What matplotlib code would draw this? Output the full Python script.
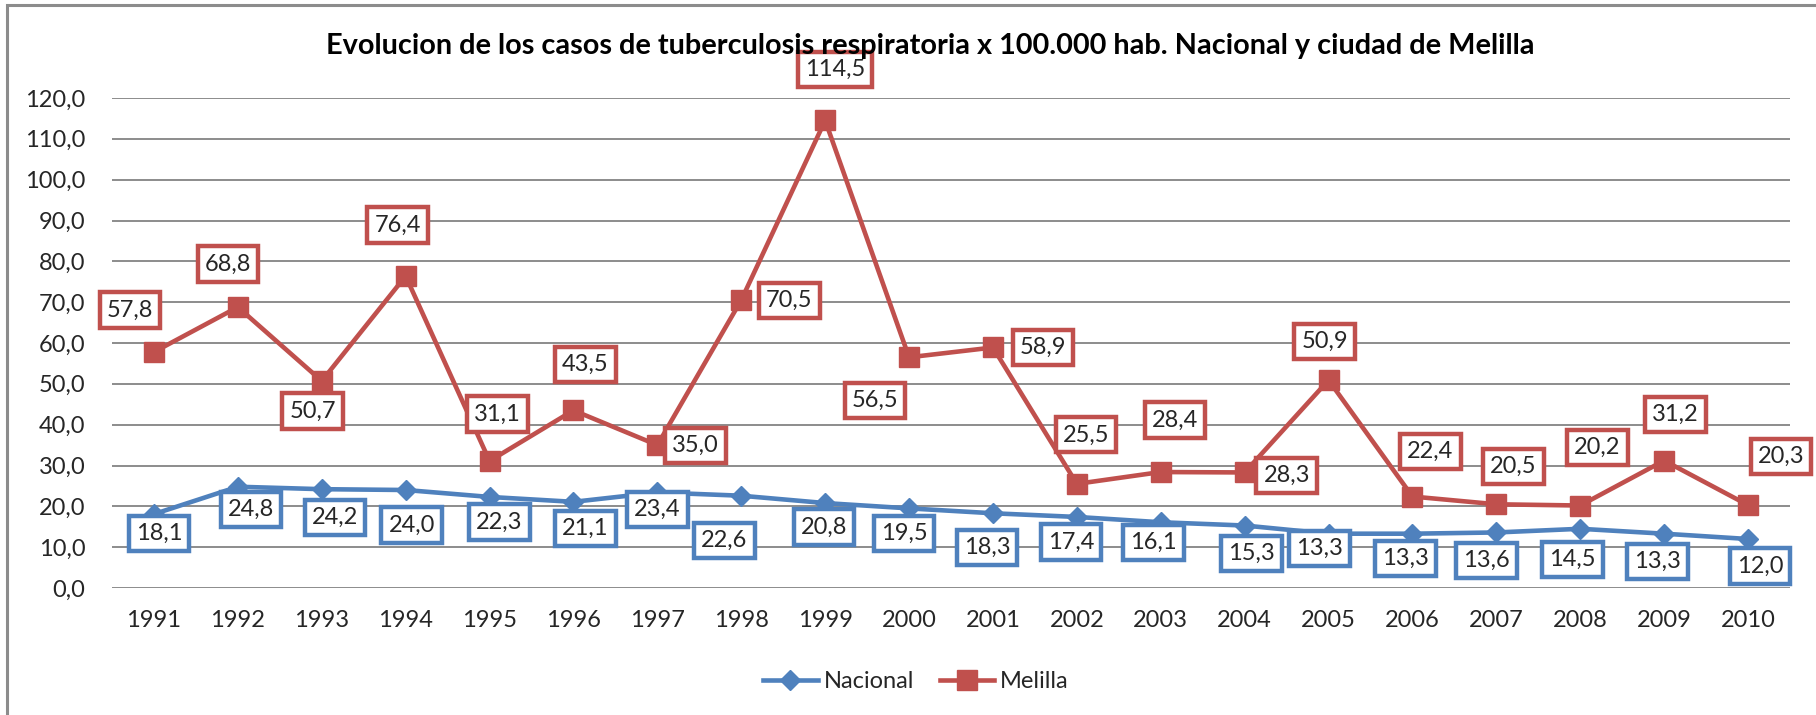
import matplotlib
matplotlib.use('Agg')
import matplotlib.pyplot as plt
from matplotlib.patches import Rectangle

plt.rcParams['font.family'] = ['Lato', 'DejaVu Sans']

# --- datos
anos = ['1991', '1992', '1993', '1994', '1995', '1996', '1997', '1998', '1999', '2000',
        '2001', '2002', '2003', '2004', '2005', '2006', '2007', '2008', '2009', '2010']
nacional = [18.1, 24.8, 24.2, 24.0, 22.3, 21.1, 23.4, 22.6, 20.8, 19.5,
            18.3, 17.4, 16.1, 15.3, 13.3, 13.3, 13.6, 14.5, 13.3, 12.0]
melilla = [57.8, 68.8, 50.7, 76.4, 31.1, 43.5, 35.0, 70.5, 114.5, 56.5,
           58.9, 25.5, 28.4, 28.3, 50.9, 22.4, 20.5, 20.2, 31.2, 20.3]
yticks = [0, 10, 20, 30, 40, 50, 60, 70, 80, 90, 100, 110, 120]

# desplazamiento de las etiquetas (pixeles, y hacia abajo)
off_mel = [(-24, -42), (-10, -43), (-9, 30), (-8, -51), (8, -47), (12, -46), (38, 0),
           (48, 0), (10, -51), (-34, 43), (50, 0), (9, -49), (14, -52), (42, 3),
           (-4, -39), (18, -45), (17, -38), (17, -58), (11, -46), (33, -49)]
off_nac = [(5, 19), (13, 23), (13, 28), (6, 35), (10, 25), (12, 27), (0, 17),
           (-17, 45), (-1, 24), (-5, 25), (-6, 34), (-6, 25), (-7, 20), (7, 28),
           (-9, 15), (-7, 25), (-10, 28), (-8, 31), (-7, 28), (12, 27)]

AZUL = '#4F81BD'
ROJO = '#C0504D'
W, H = 1816, 715
FS = 17

fig = plt.figure(figsize=(W / 100, H / 100), dpi=100)
ax = fig.add_axes([112 / W, 1 - 588 / H, (1790 - 112) / W, (588 - 98) / H])

x = list(range(len(anos)))
ax.plot(x, nacional, color=AZUL, lw=3.3, marker='D', ms=10, label='Nacional', zorder=3)
ax.plot(x, melilla, color=ROJO, lw=3.3, marker='s', ms=14.5, label='Melilla', zorder=4)


def fmt(v):
    return f'{v:.1f}'.replace('.', ',')


def etiquetas(valores, offs, color):
    for xi, v, (dx, dy) in zip(x, valores, offs):
        ax.annotate(fmt(v), (xi, v), xytext=(dx, -dy), textcoords='offset pixels',
                    ha='center', va='center', fontsize=FS, color='#262626', zorder=6,
                    annotation_clip=False,
                    bbox=dict(boxstyle='square,pad=0.3', fc='white', ec=color, lw=3.2))


etiquetas(nacional, off_nac, AZUL)
etiquetas(melilla, off_mel, ROJO)

ax.set_xlim(-0.5, len(anos) - 0.5)
ax.set_ylim(0, 120)
ax.set_yticks(yticks)
ax.set_yticklabels([fmt(t) for t in yticks])
ax.set_xticks(x)
ax.set_xticklabels(anos)
ax.yaxis.grid(True, color='#8c8c8c', lw=1.4)
ax.set_axisbelow(True)
for s in ax.spines.values():
    s.set_visible(False)
ax.tick_params(length=0, labelsize=FS, labelcolor='#262626')
ax.tick_params(axis='y', pad=19)
ax.tick_params(axis='x', pad=16)

fig.text(930 / W, 1 - 46 / H,
         'Evolucion de los casos de tuberculosis respiratoria x 100.000 hab. Nacional y ciudad de Melilla',
         ha='center', va='center', fontsize=20.8, fontweight='bold', color='black')

fig.legend(loc='center', bbox_to_anchor=(916 / W, 1 - 682 / H), ncol=2, frameon=False,
           fontsize=FS, handlelength=2.3, handletextpad=0.25, columnspacing=1.1,
           labelcolor='#262626')

# marco del grafico (recortado a la derecha y abajo)
fig.add_artist(Rectangle((7 / W, -0.1), 1.2, 1.1 - 5 / H, transform=fig.transFigure,
                         fill=False, ec='#8c8c8c', lw=2.2))

fig.savefig('out.png', dpi=100)
